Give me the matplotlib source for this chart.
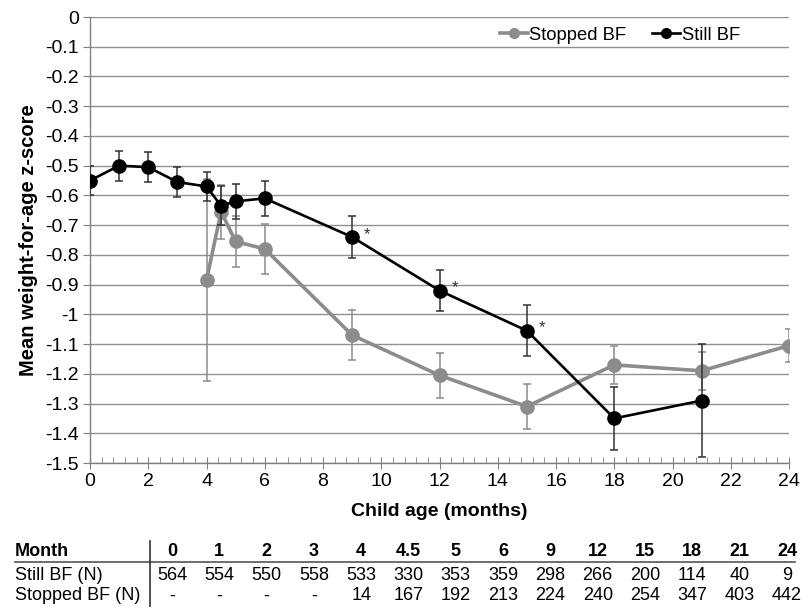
import matplotlib
matplotlib.use("Agg")
import matplotlib.pyplot as plt
from matplotlib.lines import Line2D
from matplotlib.ticker import MultipleLocator

plt.rcParams['font.family'] = ['Liberation Sans', 'DejaVu Sans']

## Data
still_age = [0, 1, 2, 3, 4, 4.5, 5, 6, 9, 12, 15, 18, 21]
still_mean = [-0.55, -0.50, -0.505, -0.555, -0.57, -0.635, -0.62, -0.61, -0.74, -0.92, -1.055, -1.35, -1.29]
still_err = [0.05, 0.05, 0.05, 0.05, 0.05, 0.065, 0.06, 0.06, 0.07, 0.07, 0.085, 0.105, 0.19]

stopped_age = [4, 4.5, 5, 6, 9, 12, 15, 18, 21, 24]
stopped_mean = [-0.885, -0.655, -0.755, -0.78, -1.07, -1.205, -1.31, -1.17, -1.19, -1.105]
stopped_err = [0.34, 0.09, 0.085, 0.085, 0.085, 0.075, 0.075, 0.065, 0.065, 0.055]

star_ages = [9, 12, 15]

table_months = ['0', '1', '2', '3', '4', '4.5', '5', '6', '9', '12', '15', '18', '21', '24']
table_still = ['564', '554', '550', '558', '533', '330', '353', '359', '298', '266', '200', '114', '40', '9']
table_stopped = ['-', '-', '-', '-', '14', '167', '192', '213', '224', '240', '254', '347', '403', '442']

gray = '#8c8c8c'
W, H = 801, 608

fig = plt.figure(figsize=(W / 100, H / 100), dpi=100)
ax = fig.add_axes([90 / W, 1 - 463 / H, 699 / W, 446 / H])

# Series
ax.errorbar(stopped_age, stopped_mean, yerr=stopped_err, color=gray, lw=2.6,
            marker='o', ms=9.5, elinewidth=1.1, ecolor=gray, capsize=3, capthick=1.1,
            label='Stopped BF', zorder=3)
ax.errorbar(still_age, still_mean, yerr=still_err, color='black', lw=1.9,
            marker='o', ms=9.5, elinewidth=1.1, ecolor='#333333', capsize=3, capthick=1.1,
            label='Still BF', zorder=4)

# Significance stars
for a in star_ages:
    m = still_mean[still_age.index(a)]
    ax.annotate('*', (a, m), xytext=(11, 2), textcoords='offset points',
                fontsize=12, color='#333333', va='center', ha='center')

# Axes
ax.set_xlim(0, 24)
ax.set_ylim(-1.5, 0)
ax.xaxis.set_major_locator(MultipleLocator(2))
ax.xaxis.set_minor_locator(MultipleLocator(0.4))
ax.set_yticks([-0.1 * i for i in range(16)])
ax.set_yticklabels(['0'] + ['-' + ('%.1f' % (0.1 * i)).rstrip('0').rstrip('.') for i in range(1, 16)])
ax.grid(axis='y', color='#909090', lw=1.0)
ax.set_axisbelow(True)
for s in ['top', 'right']:
    ax.spines[s].set_visible(False)
for s in ['left', 'bottom']:
    ax.spines[s].set_color('#808080')
    ax.spines[s].set_linewidth(1.0)
ax.tick_params(axis='x', which='major', direction='inout', length=9, color='#808080', labelsize=14, pad=3)
ax.tick_params(axis='x', which='minor', direction='in', length=4, color='#808080')
ax.tick_params(axis='y', which='major', direction='out', length=5, color='#808080', labelsize=14, pad=3)

ax.set_xlabel('Child age (months)', fontsize=14, fontweight='bold', labelpad=9)
ax.set_ylabel('Mean weight-for-age z-score', fontsize=14.5, fontweight='bold', labelpad=5)

# Legend
handles = [Line2D([], [], color=gray, lw=2.6, marker='o', ms=7),
           Line2D([], [], color='black', lw=1.9, marker='o', ms=7)]
fig.legend(handles, ['Stopped BF', 'Still BF'], loc='center', bbox_to_anchor=(620 / W, 1 - 35 / H),
           ncol=2, frameon=False, fontsize=13.2, handlelength=1.5, handletextpad=0.1,
           columnspacing=1.4)

# Table under the chart
col_x = [172 + i * 47.3 for i in range(len(table_months))]
rows_y = [552, 576, 596]
fs = 13
fig.text(15 / W, 1 - rows_y[0] / H, 'Month', fontsize=fs, fontweight='bold', va='center', ha='left')
fig.text(15 / W, 1 - rows_y[1] / H, 'Still BF (N)', fontsize=fs, va='center', ha='left')
fig.text(15 / W, 1 - rows_y[2] / H, 'Stopped BF (N)', fontsize=fs, va='center', ha='left')
for x, mo, n1, n2 in zip(col_x, table_months, table_still, table_stopped):
    fig.text(x / W, 1 - rows_y[0] / H, mo, fontsize=fs, fontweight='bold', va='center', ha='center')
    fig.text(x / W, 1 - rows_y[1] / H, n1, fontsize=fs, va='center', ha='center')
    fig.text(x / W, 1 - rows_y[2] / H, n2, fontsize=fs, va='center', ha='center')

fig.add_artist(Line2D([15 / W, 795 / W], [1 - 562 / H, 1 - 562 / H], color='#555555', lw=1.2))
fig.add_artist(Line2D([150 / W, 150 / W], [1 - 541 / H, 1 - 606 / H], color='#333333', lw=1.2))

fig.savefig('out.png', dpi=100)
